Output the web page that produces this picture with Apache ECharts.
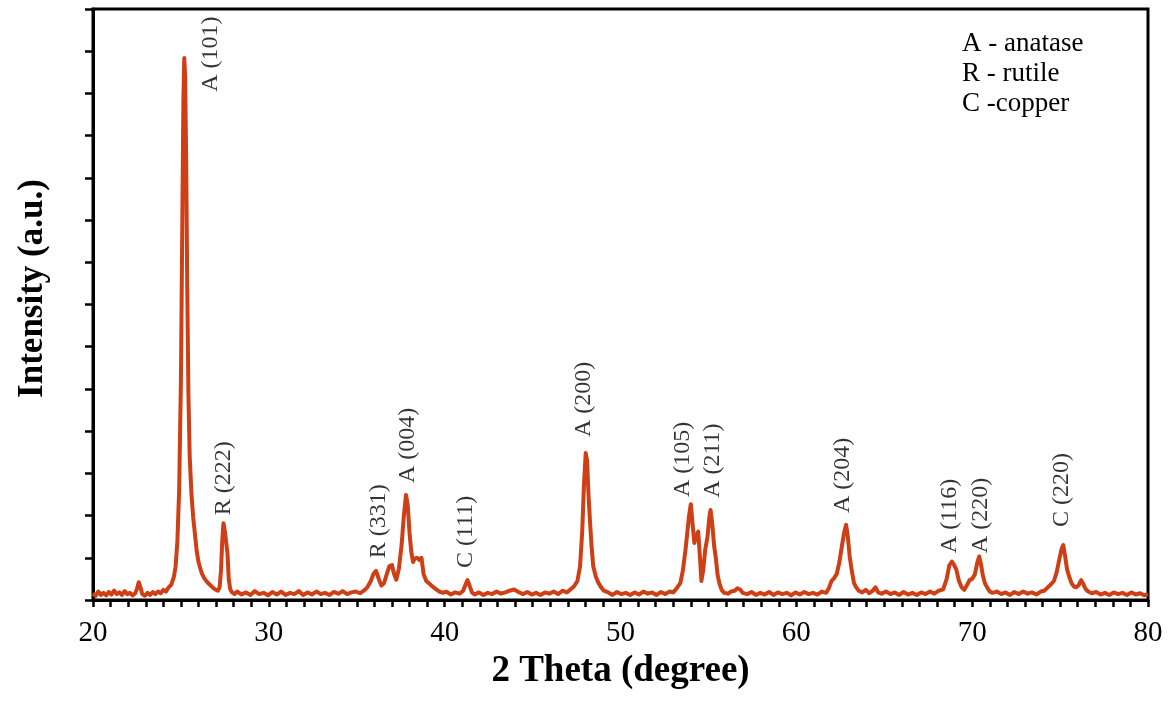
<!DOCTYPE html>
<html>
<head>
<meta charset="utf-8">
<script src="https://cdn.jsdelivr.net/npm/echarts@6/dist/echarts.min.js"></script>
<style>
  html, body { margin: 0; padding: 0; background: #fff; }
  #chart { width: 1174px; height: 712px; }
</style>
</head>
<body>
<div id="chart"></div>
<script>
// XRD pattern: [2 theta (deg), intensity (a.u.)]
const pattern = [
  [20.0,0.16],[20.15,0.1],[20.3,0.2],[20.45,0.12],[20.6,0.17],[20.75,0.11],[20.9,0.19],[21.05,0.13],[21.2,0.22],[21.35,0.14],
  [21.5,0.18],[21.65,0.12],[21.8,0.21],[21.95,0.14],[22.1,0.17],[22.25,0.11],[22.4,0.16],[22.5,0.26],[22.6,0.42],[22.7,0.3],
  [22.8,0.14],[22.95,0.1],[23.1,0.17],[23.25,0.12],[23.4,0.19],[23.55,0.14],[23.7,0.2],[23.85,0.16],[24.0,0.24],[24.15,0.2],
  [24.3,0.3],[24.45,0.36],[24.6,0.55],[24.7,0.8],[24.8,1.4],[24.9,2.6],[25.0,5.2],[25.08,9.0],[25.14,11.8],[25.19,12.84],
  [25.24,12.4],[25.3,10.4],[25.36,7.4],[25.43,4.8],[25.5,3.4],[25.6,2.5],[25.7,1.95],[25.8,1.55],[25.9,1.15],[26.0,0.9],
  [26.1,0.75],[26.2,0.62],[26.35,0.5],[26.5,0.42],[26.65,0.36],[26.8,0.3],[26.95,0.25],[27.1,0.22],[27.2,0.3],[27.28,0.7],
  [27.35,1.4],[27.42,1.82],[27.5,1.62],[27.58,1.6],[27.65,1.1],[27.72,0.5],[27.8,0.26],[27.9,0.18],[28.05,0.14],[28.2,0.2],
  [28.45,0.13],[28.7,0.18],[28.95,0.12],[29.2,0.21],[29.45,0.14],[29.7,0.17],[29.95,0.11],[30.2,0.19],[30.45,0.13],[30.7,0.2],
  [30.95,0.12],[31.2,0.17],[31.45,0.14],[31.7,0.21],[31.95,0.12],[32.2,0.18],[32.45,0.13],[32.7,0.2],[32.95,0.14],[33.2,0.17],
  [33.45,0.12],[33.7,0.19],[33.95,0.15],[34.2,0.21],[34.45,0.14],[34.7,0.18],[34.95,0.2],[35.2,0.16],[35.4,0.22],[35.6,0.3],
  [35.8,0.45],[35.95,0.62],[36.1,0.69],[36.25,0.5],[36.4,0.34],[36.55,0.4],[36.7,0.6],[36.85,0.8],[37.0,0.83],[37.12,0.62],
  [37.25,0.48],[37.4,0.75],[37.55,1.3],[37.68,2.0],[37.8,2.49],[37.9,2.25],[38.0,1.6],[38.1,1.15],[38.2,0.9],[38.3,0.98],
  [38.42,1.0],[38.55,0.95],[38.68,1.0],[38.8,0.62],[38.95,0.45],[39.1,0.4],[39.3,0.32],[39.5,0.26],[39.7,0.2],[39.9,0.17],
  [40.1,0.2],[40.35,0.13],[40.6,0.18],[40.85,0.15],[41.05,0.22],[41.2,0.38],[41.3,0.47],[41.4,0.36],[41.55,0.18],[41.7,0.13],
  [41.95,0.18],[42.2,0.12],[42.45,0.17],[42.7,0.14],[42.95,0.2],[43.2,0.15],[43.45,0.18],[43.7,0.22],[43.95,0.25],[44.2,0.19],
  [44.45,0.14],[44.7,0.19],[44.95,0.13],[45.2,0.17],[45.45,0.12],[45.7,0.18],[45.95,0.15],[46.2,0.2],[46.45,0.14],[46.7,0.22],
  [46.95,0.18],[47.15,0.25],[47.35,0.32],[47.55,0.45],[47.7,0.8],[47.82,1.6],[47.92,2.7],[48.02,3.48],[48.1,3.3],[48.18,2.5],
  [48.26,1.9],[48.35,1.3],[48.45,0.8],[48.6,0.55],[48.75,0.4],[48.9,0.3],[49.05,0.22],[49.3,0.18],[49.55,0.12],[49.8,0.19],
  [50.05,0.14],[50.3,0.17],[50.55,0.12],[50.8,0.18],[51.05,0.13],[51.3,0.2],[51.55,0.15],[51.8,0.18],[52.05,0.12],[52.3,0.19],
  [52.55,0.14],[52.8,0.2],[53.0,0.18],[53.2,0.28],[53.4,0.4],[53.55,0.7],[53.7,1.2],[53.8,1.6],[53.9,2.0],[54.0,2.27],
  [54.1,1.8],[54.2,1.35],[54.3,1.5],[54.42,1.62],[54.52,1.0],[54.6,0.45],[54.7,0.7],[54.82,1.2],[54.95,1.5],[55.05,1.95],
  [55.12,2.13],[55.22,1.8],[55.32,1.3],[55.42,1.0],[55.52,0.6],[55.62,0.4],[55.75,0.24],[55.9,0.17],[56.1,0.15],[56.3,0.2],
  [56.5,0.22],[56.65,0.28],[56.8,0.25],[56.95,0.17],[57.2,0.14],[57.45,0.19],[57.7,0.12],[57.95,0.17],[58.2,0.13],[58.45,0.19],
  [58.7,0.12],[58.95,0.18],[59.2,0.14],[59.45,0.17],[59.7,0.11],[59.95,0.18],[60.2,0.13],[60.45,0.19],[60.7,0.14],[60.95,0.17],
  [61.2,0.13],[61.45,0.2],[61.7,0.17],[61.85,0.28],[62.0,0.45],[62.15,0.52],[62.3,0.62],[62.45,0.9],[62.6,1.3],[62.72,1.6],
  [62.83,1.78],[62.93,1.5],[63.03,1.05],[63.15,0.7],[63.28,0.4],[63.4,0.3],[63.55,0.22],[63.75,0.18],[63.95,0.24],[64.15,0.16],
  [64.35,0.22],[64.5,0.3],[64.65,0.18],[64.85,0.15],[65.1,0.2],[65.35,0.14],[65.6,0.18],[65.85,0.12],[66.1,0.19],[66.35,0.13],
  [66.6,0.17],[66.85,0.12],[67.1,0.18],[67.35,0.14],[67.6,0.2],[67.85,0.15],[68.1,0.22],[68.35,0.25],[68.55,0.5],[68.7,0.82],
  [68.85,0.91],[68.95,0.85],[69.1,0.72],[69.25,0.45],[69.4,0.3],[69.55,0.24],[69.7,0.35],[69.85,0.47],[70.0,0.5],[70.15,0.6],
  [70.3,0.9],[70.4,1.03],[70.5,0.85],[70.6,0.6],[70.72,0.4],[70.85,0.3],[71.0,0.2],[71.15,0.17],[71.4,0.2],[71.65,0.14],
  [71.9,0.18],[72.15,0.12],[72.4,0.19],[72.65,0.14],[72.9,0.2],[73.15,0.15],[73.4,0.18],[73.65,0.13],[73.9,0.2],[74.1,0.22],
  [74.3,0.3],[74.5,0.38],[74.65,0.45],[74.8,0.65],[74.95,0.95],[75.08,1.2],[75.18,1.3],[75.28,1.05],[75.4,0.72],[75.52,0.55],
  [75.65,0.4],[75.78,0.32],[75.92,0.3],[76.05,0.35],[76.2,0.47],[76.32,0.38],[76.45,0.26],[76.6,0.2],[76.8,0.16],[77.05,0.19],
  [77.3,0.13],[77.55,0.17],[77.8,0.12],[78.05,0.18],[78.3,0.14],[78.55,0.17],[78.8,0.12],[79.05,0.18],[79.3,0.13],[79.55,0.16],
  [79.8,0.11],[80.0,0.14],
]

// peak labels: text, and where the start of the rotated text sits (data coords)
const peakNames = ['A (101)', 'R (222)', 'R (331)', 'A (004)', 'C (111)', 'A (200)', 'A (105)', 'A (211)', 'A (204)', 'A (116)', 'A (220)', 'C (220)']
const peakLabelX = [26.71, 27.45, 36.25, 37.92, 41.2, 47.9, 53.53, 55.27, 62.66, 68.75, 70.5, 75.12]
const peakLabelY = [12.04, 2.01, 0.99, 2.77, 0.76, 3.86, 2.44, 2.42, 2.06, 1.11, 1.11, 1.73]

const legendLines = ['A - anatase', 'R - rutile', 'C -copper']
const xTitle = '2 Theta (degree)'
const yTitle = 'Intensity (a.u.)'

const serif = '"Liberation Serif", "Times New Roman", serif'
const lineColor = '#cf3f16'

const chart = echarts.init(document.getElementById('chart'), null, { renderer: 'canvas' })

chart.setOption({
  animation: false,
  backgroundColor: '#fff',
  grid: {
    left: 93, right: 26, top: 9, bottom: 112,
    outerBoundsMode: 'none',
    containLabel: false,
    show: true, borderColor: '#000', borderWidth: 3, backgroundColor: 'transparent',
  },
  xAxis: {
    type: 'value',
    min: 20, max: 80, interval: 10,
    name: xTitle,
    nameLocation: 'middle',
    nameGap: 53,
    nameTextStyle: { fontFamily: serif, fontWeight: 'bold', fontSize: 37, color: '#000' },
    axisLine: { show: true, onZero: false, lineStyle: { color: '#000', width: 3 } },
    axisTick: { show: true, inside: false, length: 7, lineStyle: { color: '#000', width: 2.5 } },
    minorTick: { show: true, splitNumber: 10, length: 7, lineStyle: { color: '#000', width: 2.5 } },
    axisLabel: { margin: 19, fontFamily: serif, fontSize: 29, color: '#000' },
    splitLine: { show: false },
  },
  yAxis: {
    type: 'value',
    min: 0, max: 14, interval: 1,
    name: yTitle,
    nameLocation: 'middle',
    nameGap: 43,
    nameTextStyle: { fontFamily: serif, fontWeight: 'bold', fontSize: 35, color: '#000', padding: [0, 0, 0, 32] },
    axisLine: { show: true, onZero: false, lineStyle: { color: '#000', width: 3 } },
    axisTick: { show: true, inside: false, length: 8, lineStyle: { color: '#000', width: 2.5 } },
    axisLabel: { show: false },
    splitLine: { show: false },
  },
  series: [
    {
      type: 'line',
      data: pattern,
      showSymbol: false,
      symbol: 'none',
      smooth: false,
      lineStyle: { color: lineColor, width: 4, join: 'round' },
      z: 2,
    },
    {
      type: 'scatter',
      symbolSize: 0,
      silent: true,
      data: peakNames.map((name, i) => ({ value: [peakLabelX[i], peakLabelY[i]], name })),
      label: {
        show: true,
        position: [0, 0],
        rotate: 90,
        align: 'left',
        verticalAlign: 'middle',
        formatter: (p) => p.name,
        fontFamily: serif,
        fontSize: 24,
        color: '#000',
      },
      z: 3,
    },
  ],
  graphic: [
    {
      type: 'text',
      left: 962,
      top: 29,
      style: {
        text: legendLines.join('\n'),
        fontFamily: serif,
        fontSize: 27,
        lineHeight: 30,
        fill: '#000',
      },
    },
  ],
})
</script>
</body>
</html>
